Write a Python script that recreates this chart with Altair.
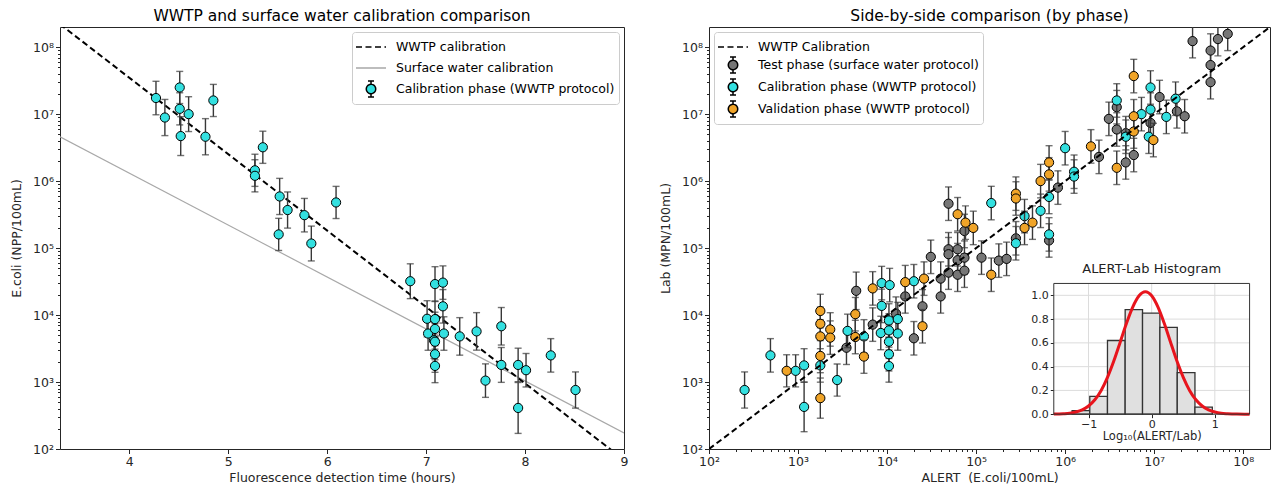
import altair as alt
import pandas as pd

FONT = "DejaVu Sans"
INK = "#262626"
CYAN = "#33e0e0"
GRAY = "#767676"
ORANGE = "#f0a428"
ERR = "#383838"
LINE_GRAY = "#a8a8a8"

# ---------------- Left panel data ----------------
left_time = [4.27, 4.36, 4.51, 4.51, 4.52, 4.60, 4.77, 4.85, 5.27, 5.27, 5.35, 5.52, 5.60, 5.77,
             6.09, 5.51, 5.84, 6.84, 7.09, 7.17, 7.17, 7.01, 7.09, 7.02, 7.09, 7.08, 7.09, 7.09,
             7.09, 7.18, 7.34, 7.51, 7.76, 7.60, 7.76, 7.93, 7.93, 8.01, 8.26, 8.51]
left_ecoli = [1.74e7, 8.9e6, 2.5e7, 1.2e7, 4.7e6, 1.0e7, 4.6e6, 1.6e7, 1.45e6, 1.2e6, 3.2e6, 5.9e5,
              3.7e5, 3.1e5, 4.8e5, 1.6e5, 1.17e5, 3.2e4, 2.9e4, 3.05e4, 1.35e4, 8.8e3, 8.7e3, 5.3e3,
              6.2e3, 4.2e3, 4.0e3, 2.6e3, 1.74e3, 5.3e3, 4.8e3, 5.7e3, 6.8e3, 1.05e3, 1.8e3, 1.8e3,
              410, 1.5e3, 2.5e3, 760]
left_err_dex = [0.25, 0.27, 0.24, 0.24, 0.29, 0.26, 0.27, 0.24, 0.24, 0.24, 0.24, 0.27, 0.27, 0.25,
                0.24, 0.24, 0.26, 0.26, 0.26, 0.25, 0.25, 0.27, 0.27, 0.25, 0.25, 0.27, 0.27, 0.27,
                0.25, 0.25, 0.28, 0.28, 0.28, 0.25, 0.26, 0.25, 0.38, 0.25, 0.25, 0.27]
wwtp_time = [3.3, 9.0]
wwtp_ecoli = [2.2e8, 69.0]
surface_time = [3.3, 9.0]
surface_ecoli = [4.6e6, 174.0]
left_legend = ["WWTP calibration", "Surface water calibration", "Calibration phase (WWTP protocol)"]

# ---------------- Right panel data ----------------
test_alert = [3.5e3, 6.9e3, 1.26e4, 2.0e4, 4.5e3, 1.6e4, 2.5e4, 3.1e4, 4.0e4, 4.0e4, 4.9e4, 4.9e4,
              4.9e4, 4.9e4, 6.2e4, 6.2e4, 6.2e4, 7.4e4, 7.4e4, 7.4e4, 1.15e5, 1.8e5, 2.2e5, 2.8e5,
              6.6e5, 8.3e5, 2.4e6, 3.1e6, 3.8e6, 3.8e6, 4.8e6, 4.8e6, 5.9e6, 9.1e6, 1.15e7, 1.8e7,
              2.2e7, 2.7e7, 4.3e7, 4.3e7, 4.3e7, 5.2e7, 6.7e7]
test_lab = [3.25e3, 7.2e3, 1.05e4, 4.5e3, 2.3e4, 1.9e4, 1.35e4, 7.4e4, 3.5e4, 1.9e4, 4.6e5, 9.6e4,
            8.1e4, 4.3e4, 9.6e4, 6.6e4, 4.0e4, 1.8e5, 7.2e4, 4.6e4, 7.2e4, 6.5e4, 6.9e4, 1.4e5,
            1.3e5, 8.0e5, 2.3e6, 8.5e6, 1.27e7, 5.9e6, 5.2e6, 1.9e6, 2.45e6, 7.4e6, 1.8e7, 1.1e7,
            9.3e6, 1.23e8, 8.9e7, 5.4e7, 3.0e7, 1.32e8, 1.58e8]
test_err_dex = [0.25, 0.25, 0.25, 0.25, 0.28, 0.25, 0.25, 0.25, 0.25, 0.25, 0.25, 0.25,
                0.25, 0.25, 0.25, 0.25, 0.25, 0.25, 0.25, 0.25, 0.25, 0.25, 0.25, 0.25,
                0.25, 0.25, 0.25, 0.25, 0.25, 0.25, 0.25, 0.25, 0.25, 0.25, 0.25, 0.25,
                0.25, 0.25, 0.25, 0.25, 0.25, 0.25, 0.25]

cal_alert = [251, 490, 940, 1.17e3, 1.17e3, 2.75e3, 1.78e3, 3.6e3, 5.5e3, 8.5e3, 1.05e4, 1.05e4,
             1.05e4, 1.05e4, 1.05e4, 1.32e4, 1.32e4, 8.7e3, 1.07e4, 2.0e4, 8.7e3, 1.48e5, 3.5e5,
             2.8e5, 5.3e5, 6.6e5, 6.6e5, 1.26e6, 1.0e6, 1.26e6, 3.8e6, 4.8e6, 7.2e6, 9.1e6, 9.1e6,
             8.7e6, 1.37e7, 1.74e7]
cal_lab = [760, 2.5e3, 1.47e3, 1.77e3, 425, 1.07e3, 1.77e3, 5.8e3, 4.8e3, 5.4e3, 8.3e3, 5.9e3,
           4.0e3, 2.6e3, 1.73e3, 8.7e3, 5.3e3, 3.0e4, 2.8e4, 3.2e4, 1.37e4, 4.7e5, 3.0e5,
           1.18e5, 3.6e5, 5.8e5, 1.6e5, 1.38e6, 3.1e6, 1.17e6, 1.6e7, 4.6e6, 1.0e7, 2.5e7, 1.17e7,
           4.6e6, 9.1e6, 1.7e7]
cal_err_dex = [0.27, 0.25, 0.24, 0.25, 0.37, 0.24, 0.25, 0.25, 0.25, 0.25, 0.25, 0.25,
               0.25, 0.25, 0.24, 0.25, 0.25, 0.25, 0.25, 0.25, 0.25, 0.25, 0.25,
               0.25, 0.25, 0.25, 0.25, 0.25, 0.25, 0.25, 0.25, 0.25, 0.25, 0.25, 0.25,
               0.25, 0.25, 0.25]

val_alert = [745, 1.78e3, 1.78e3, 1.78e3, 1.78e3, 1.78e3, 2.3e3, 2.3e3, 4.4e3, 4.4e3, 5.5e3, 2.5e4,
             6.9e3, 1.6e4, 2.6e4, 6.2e4, 7.6e4, 9.3e4, 1.48e5, 2.8e5, 2.8e5, 3.5e5, 4.3e5, 5.3e5,
             6.6e5, 6.6e5, 1.95e6, 3.8e6, 5.9e6, 5.9e6, 5.9e6, 9.8e6]
val_lab = [1.47e3, 1.15e4, 7.4e3, 4.8e3, 2.45e3, 575, 6.1e3, 4.6e3, 1.03e4, 4.7e3, 2.4e3, 6.8e3,
           2.5e4, 3.1e4, 3.5e4, 3.2e5, 2.4e5, 2.0e5, 4.0e4, 6.5e5, 5.5e5, 2.0e5, 2.4e5, 1.0e6,
           1.26e6, 1.9e6, 3.3e6, 1.58e6, 3.7e7, 9.3e6, 5.5e6, 4.1e6]
val_err_dex = [0.24, 0.25, 0.25, 0.25, 0.25, 0.30, 0.25, 0.25, 0.25, 0.25, 0.25, 0.25,
               0.25, 0.25, 0.25, 0.25, 0.25, 0.25, 0.25, 0.25, 0.25, 0.25, 0.25, 0.25,
               0.25, 0.25, 0.25, 0.25, 0.25, 0.25, 0.25, 0.25]

calib_line = [1e2, 2e8]
right_legend = ["WWTP Calibration", "Test phase (surface water protocol)",
                "Calibration phase (WWTP protocol)", "Validation phase (WWTP protocol)"]

# ---------------- Inset data ----------------
hist_left = [-1.26, -0.98, -0.70, -0.42, -0.145, 0.13, 0.405, 0.685]
hist_right = [-0.98, -0.70, -0.42, -0.145, 0.13, 0.405, 0.685, 0.96]
hist_density = [0.03, 0.15, 0.62, 0.88, 0.85, 0.73, 0.35, 0.06]
curve_x = [-1.55, -1.4, -1.3, -1.2, -1.1, -1.0, -0.9, -0.8, -0.7, -0.6, -0.5, -0.4, -0.3, -0.2,
           -0.1, 0.0, 0.1, 0.2, 0.3, 0.4, 0.5, 0.6, 0.7, 0.8, 0.9, 1.0, 1.1, 1.2, 1.35, 1.55]
curve_y = [0.001, 0.004, 0.008, 0.018, 0.036, 0.069, 0.121, 0.200, 0.310, 0.447, 0.604, 0.763,
           0.901, 0.996, 1.03, 0.996, 0.901, 0.763, 0.604, 0.447, 0.310, 0.200, 0.121, 0.069,
           0.036, 0.018, 0.008, 0.004, 0.001, 0.0]
inset_xlim = [-1.55, 1.55]
inset_ylim = [0.0, 1.1]
inset_xticks = [-1, 0, 1]
inset_yticks = [0.0, 0.2, 0.4, 0.6, 0.8, 1.0]

# ---------------- Layout ----------------
LW, RW, H = 564, 561, 422
SP = 30

log_ticks = [k * 10 ** e for e in range(2, 9) for k in range(1, 10) if k * 10 ** e < 1.9e8]
MAJOR = "abs(log(datum.value)/LN10 - round(log(datum.value)/LN10)) < 0.001"
SUP = "['\u2070','\u00b9','\u00b2','\u00b3','\u2074','\u2075','\u2076','\u2077','\u2078','\u2079']"
LOG_LABEL = f"{MAJOR} ? '10' + {SUP}[round(log(datum.value)/LN10)] : ''"


def log_axis(title, **kw):
    return alt.Axis(title=title, values=log_ticks, labelExpr=LOG_LABEL, labelOverlap=False,
                    labelFlush=False,
                    tickSize={"condition": {"test": MAJOR, "value": 4.5}, "value": 2.5}, **kw)


def err_frame(x, y, e):
    return pd.DataFrame({"x": x, "y": y,
                         "lo": [v / 10 ** d for v, d in zip(y, e)],
                         "hi": [v * 10 ** d for v, d in zip(y, e)]})


def err_layers(df, X, Y):
    base = alt.Chart(df)
    rule = base.mark_rule(color=ERR, strokeWidth=1.4, clip=True).encode(
        x=X("x"), y=Y("lo"), y2="hi:Q")
    lo = base.mark_tick(orient="horizontal", size=7, thickness=1.4, color=ERR, clip=True).encode(
        x=X("x"), y=Y("lo"))
    hi = base.mark_tick(orient="horizontal", size=7, thickness=1.4, color=ERR, clip=True).encode(
        x=X("x"), y=Y("hi"))
    return [rule, lo, hi]


def points(df, X, Y, fill):
    return alt.Chart(df).mark_point(shape="circle", filled=True, size=85, fill=fill, stroke="black",
                                    strokeWidth=1, opacity=1, clip=True).encode(x=X("x"), y=Y("y"))


P_LINE = "M-1.5,0H1.5"
P_MARK = ("M0,-0.8V-0.47M0,0.47V0.8M-0.3,-0.8H0.3M-0.3,0.8H0.3"
          "M-0.47,0A0.47,0.47,0,1,1,0.47,0A0.47,0.47,0,1,1,-0.47,0Z")


def legend_layer(labels, shapes, fills, strokes, dashes, orient, X, Y, xval, yval, row_pad):
    lg = alt.Legend(orient=orient, offset=5, title=None, padding=4, fillColor="white",
                    strokeColor="#cccccc", cornerRadius=3, labelFont=FONT, labelFontSize=12.5,
                    labelColor="black", labelLimit=400, symbolSize=400, symbolStrokeWidth=1.5,
                    symbolOffset=4, labelOffset=14, rowPadding=row_pad, symbolOpacity=1)
    df = pd.DataFrame({"series": labels, "x": [xval] * len(labels), "y": [yval] * len(labels)})
    return alt.Chart(df).mark_point(filled=True, clip=True, opacity=1).encode(
        x=X("x"), y=Y("y"),
        shape=alt.Shape("series:N", scale=alt.Scale(domain=labels, range=shapes), legend=lg),
        fill=alt.Fill("series:N", scale=alt.Scale(domain=labels, range=fills), legend=lg),
        stroke=alt.Stroke("series:N", scale=alt.Scale(domain=labels, range=strokes), legend=lg),
        strokeDash=alt.StrokeDash("series:N", scale=alt.Scale(domain=labels, range=dashes), legend=lg),
    )


# ---------------- Left panel ----------------
sx_left = alt.Scale(domain=[3.3, 9.0], nice=False, zero=False)
sy_log = alt.Scale(type="log", domain=[1e2, 2e8], nice=False)
ax_left_x = alt.Axis(title="Fluorescence detection time (hours)", values=[4, 5, 6, 7, 8, 9],
                     labelFlush=False, tickSize=4.5)
ax_left_y = log_axis("E.coli (NPP/100mL)", titlePadding=9)


def XL(f):
    return alt.X(f"{f}:Q", scale=sx_left, axis=ax_left_x)


def YL(f):
    return alt.Y(f"{f}:Q", scale=sy_log, axis=ax_left_y)


ldf = err_frame(left_time, left_ecoli, left_err_dex)
wwtp_df = pd.DataFrame({"x": wwtp_time, "y": wwtp_ecoli})
surf_df = pd.DataFrame({"x": surface_time, "y": surface_ecoli})

left = alt.layer(
    alt.Chart(surf_df).mark_line(color=LINE_GRAY, strokeWidth=1.2, clip=True).encode(x=XL("x"), y=YL("y")),
    alt.Chart(wwtp_df).mark_line(color="black", strokeWidth=2, strokeDash=[6, 3.5], clip=True).encode(
        x=XL("x"), y=YL("y")),
    *err_layers(ldf, XL, YL),
    points(ldf, XL, YL, CYAN),
    legend_layer(left_legend, [P_LINE, P_LINE, P_MARK], ["black", LINE_GRAY, CYAN],
                 ["black", LINE_GRAY, "black"], [[6, 3.5], [1, 0], [1, 0]], "top-right",
                 XL, YL, 20.0, 1e5, 3),
).properties(width=LW, height=H, title="WWTP and surface water calibration comparison")

# ---------------- Right panel ----------------
sx_right = alt.Scale(type="log", domain=[1e2, 2e8], nice=False)
ax_right_x = log_axis("ALERT\u00a0 (E.coli/100mL)")
ax_right_y = log_axis("Lab (MPN/100mL)", titlePadding=9)


def XR(f):
    return alt.X(f"{f}:Q", scale=sx_right, axis=ax_right_x)


def YR(f):
    return alt.Y(f"{f}:Q", scale=sy_log, axis=ax_right_y)


tdf = err_frame(test_alert, test_lab, test_err_dex)
cdf = err_frame(cal_alert, cal_lab, cal_err_dex)
vdf = err_frame(val_alert, val_lab, val_err_dex)
diag_df = pd.DataFrame({"x": calib_line, "y": calib_line})

main_right = alt.layer(
    *err_layers(tdf, XR, YR), points(tdf, XR, YR, GRAY),
    *err_layers(cdf, XR, YR), points(cdf, XR, YR, CYAN),
    *err_layers(vdf, XR, YR), points(vdf, XR, YR, ORANGE),
    alt.Chart(diag_df).mark_line(color="black", strokeWidth=2, strokeDash=[6, 3.5], clip=True).encode(
        x=XR("x"), y=YR("y")),
    legend_layer(right_legend, [P_LINE, P_MARK, P_MARK, P_MARK], ["black", GRAY, CYAN, ORANGE],
                 ["black", "black", "black", "black"], [[6, 3.5], [1, 0], [1, 0], [1, 0]],
                 "top-left", XR, YR, 1e10, 1e5, 0),
)

# inset placement (fractions of the right plot area)
IX = [0.6146 * RW, 0.9636 * RW]
IY = [0.9175 * H, 0.6077 * H]
sx_in = alt.Scale(domain=inset_xlim, range=IX, nice=False, zero=False)
sy_in = alt.Scale(domain=inset_ylim, range=IY, nice=False, zero=False)
ax_in_x = alt.Axis(orient="bottom", offset=IY[0] - H, values=inset_xticks,
                   labelExpr="datum.value < 0 ? '\u2212' + abs(datum.value) : '' + datum.value",
                   title="Log\u2081\u2080(ALERT/Lab)", labelFontSize=11, titleFontSize=11.5,
                   tickSize=3.5, labelPadding=1, titlePadding=1, labelFlush=False)
ax_in_y = alt.Axis(orient="left", offset=-IX[0], values=inset_yticks, format=".1f",
                   title="", labelFontSize=11, tickSize=3.5, labelPadding=2)


def XI(f):
    return alt.X(f"{f}:Q", scale=sx_in, axis=ax_in_x)


def YI(f):
    return alt.Y(f"{f}:Q", scale=sy_in, axis=ax_in_y)


box_df = pd.DataFrame({"x": [inset_xlim[0]], "x2": [inset_xlim[1]],
                       "y": [inset_ylim[0]], "y2": [inset_ylim[1]]})
vgrid = pd.DataFrame({"x": inset_xticks, "y": [inset_ylim[0]] * 3, "y2": [inset_ylim[1]] * 3})
hgrid = pd.DataFrame({"y": inset_yticks, "x": [inset_xlim[0]] * 6, "x2": [inset_xlim[1]] * 6})
hist_df = pd.DataFrame({"x": hist_left, "x2": hist_right, "y": hist_density})
curve_df = pd.DataFrame({"x": curve_x, "y": curve_y})
title_df = pd.DataFrame({"x": [sum(inset_xlim) / 2], "y": [inset_ylim[1]], "t": ["ALERT-Lab Histogram"]})

inset = alt.layer(
    alt.Chart(box_df).mark_rect(fill="white").encode(x=XI("x"), x2="x2:Q", y=YI("y"), y2="y2:Q"),
    alt.Chart(vgrid).mark_rule(color="#dcdcdc", strokeWidth=1).encode(x=XI("x"), y=YI("y"), y2="y2:Q"),
    alt.Chart(hgrid).mark_rule(color="#dcdcdc", strokeWidth=1).encode(y=YI("y"), x=XI("x"), x2="x2:Q"),
    alt.Chart(hist_df).mark_rect(fill="#e0e0e0", stroke="#333333", strokeWidth=1.3).encode(
        x=XI("x"), x2="x2:Q", y=YI("y"), y2=alt.datum(0)),
    alt.Chart(curve_df).mark_line(color="#e8141c", strokeWidth=3, interpolate="monotone").encode(
        x=XI("x"), y=YI("y")),
    alt.Chart(box_df).mark_rect(fillOpacity=0, stroke="#333333", strokeWidth=1).encode(
        x=XI("x"), x2="x2:Q", y=YI("y"), y2="y2:Q"),
    alt.Chart(title_df).mark_text(baseline="bottom", dy=-7, fontSize=13, font=FONT, color="#222222").encode(
        x=XI("x"), y=YI("y"), text="t:N"),
)

right = alt.layer(main_right, inset).resolve_scale(x="independent", y="independent").properties(
    width=RW, height=H, title="Side-by-side comparison (by phase)")

chart = alt.hconcat(left, right, spacing=SP).resolve_scale(
    x="independent", y="independent", shape="independent", fill="independent",
    stroke="independent", strokeDash="independent"
).resolve_legend(
    shape="independent", fill="independent", stroke="independent", strokeDash="independent"
).properties(
    padding={"left": 2, "top": 0, "right": 0, "bottom": 0}
).configure_view(stroke=INK, strokeWidth=1).configure_axis(
    grid=False, domain=False, labelFont=FONT, titleFont=FONT, labelFontSize=12.5, titleFontSize=12.5,
    titleFontWeight="normal", labelColor=INK, titleColor=INK, tickColor=INK, labelPadding=2,
    titlePadding=3
).configure_title(font=FONT, fontSize=15.5, fontWeight="normal", color="black", offset=3)

chart.save("out.html", embed_options={"renderer": "svg", "actions": False})
